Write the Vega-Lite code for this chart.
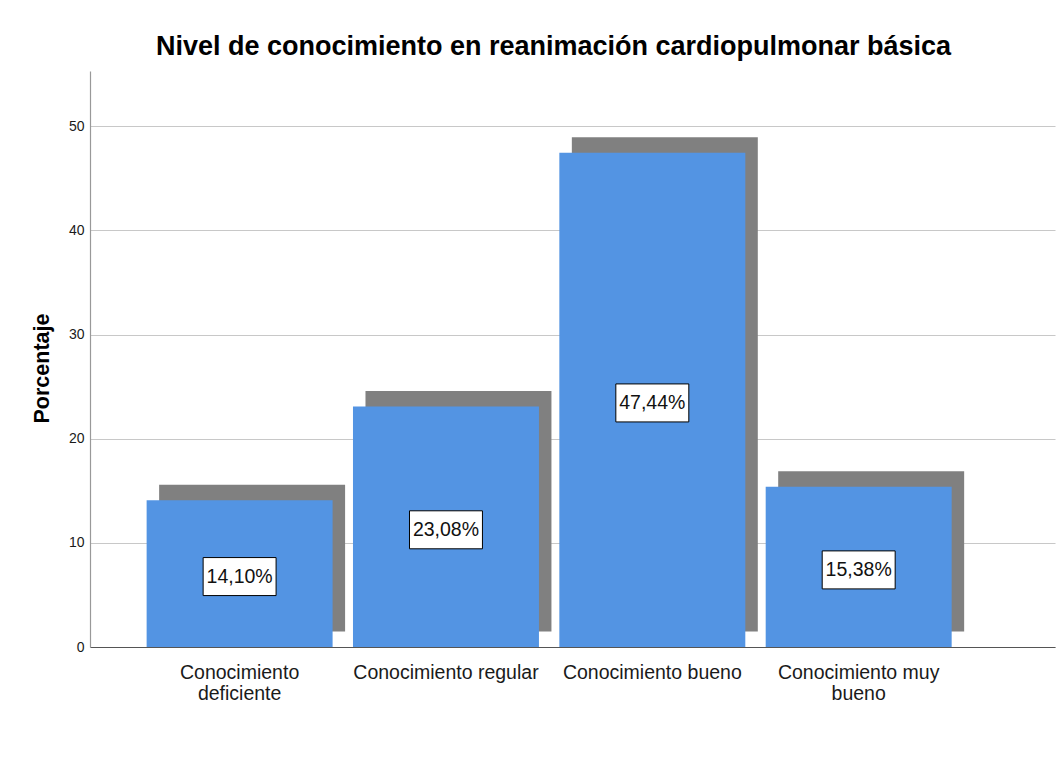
{
  "$schema": "https://vega.github.io/schema/vega-lite/v6.json",
  "width": 965,
  "height": 576,
  "autosize": {"type": "none"},
  "padding": {"left": 90, "top": 71, "right": 7, "bottom": 128},
  "background": "white",
  "title": {
    "text": "Nivel de conocimiento en reanimación cardiopulmonar básica",
    "font": "Liberation Sans",
    "fontSize": 27,
    "fontWeight": "bold",
    "color": "#000000",
    "anchor": "middle",
    "dx": -19,
    "offset": 10
  },
  "config": {
    "view": {"stroke": null},
    "font": "Liberation Sans"
  },
  "data": {
    "values": [
      {"nivel": "Conocimiento deficiente", "porcentaje": 14.10, "etiqueta": "14,10%"},
      {"nivel": "Conocimiento regular", "porcentaje": 23.08, "etiqueta": "23,08%"},
      {"nivel": "Conocimiento bueno", "porcentaje": 47.44, "etiqueta": "47,44%"},
      {"nivel": "Conocimiento muy bueno", "porcentaje": 15.38, "etiqueta": "15,38%"}
    ]
  },
  "encoding": {
    "x": {
      "field": "nivel",
      "type": "nominal",
      "sort": null,
      "scale": {"paddingInner": 0.0988, "paddingOuter": 0.3876, "align": 0.354},
      "axis": {
        "title": null,
        "labelAngle": 0,
        "ticks": false,
        "domainColor": "#555555",
        "domainWidth": 1.2,
        "labelFont": "Liberation Sans",
        "labelFontSize": 19.5,
        "labelColor": "#1a1a1a",
        "labelPadding": 16,
        "labelLineHeight": 21,
        "labelLimit": 400,
        "labelExpr": "datum.value == 'Conocimiento deficiente' ? ['Conocimiento', 'deficiente'] : datum.value == 'Conocimiento muy bueno' ? ['Conocimiento muy', 'bueno'] : datum.value"
      }
    }
  },
  "layer": [
    {
      "mark": {"type": "bar", "color": "#808080", "xOffset": 12.5, "yOffset": -15.5, "y2Offset": -15.5},
      "encoding": {
        "y": {
          "field": "porcentaje",
          "type": "quantitative",
          "scale": {"domain": [0, 55.3], "nice": false},
          "axis": {
            "title": "Porcentaje",
            "titleFont": "Liberation Sans",
            "titleFontSize": 21.5,
            "titleFontWeight": "bold",
            "titleColor": "#000000",
            "titlePadding": 15,
            "titleY": 297,
            "values": [0, 10, 20, 30, 40, 50],
            "ticks": false,
            "labelPadding": 6,
            "labelFont": "Liberation Sans",
            "labelFontSize": 14,
            "labelColor": "#1a1a1a",
            "domainColor": "#999999",
            "domainWidth": 1.2,
            "gridColor": "#c8c8c8",
            "gridWidth": 1.2
          }
        },
        "y2": {"datum": 0}
      }
    },
    {
      "mark": {"type": "bar", "color": "#5394e3"},
      "encoding": {
        "y": {"field": "porcentaje", "type": "quantitative"},
        "y2": {"datum": 0}
      }
    },
    {
      "transform": [{"calculate": "datum.porcentaje / 2", "as": "mitad"}],
      "mark": {"type": "point", "shape": "M-1.92,-1H1.92V1H-1.92Z", "size": 1444, "filled": true, "fill": "white", "stroke": "#000000", "strokeWidth": 1, "opacity": 1, "yOffset": 3},
      "encoding": {
        "y": {"field": "mitad", "type": "quantitative"}
      }
    },
    {
      "transform": [{"calculate": "datum.porcentaje / 2", "as": "mitad"}],
      "mark": {"type": "text", "font": "Liberation Sans", "fontSize": 19.5, "color": "#111111", "baseline": "middle", "align": "center", "yOffset": 3},
      "encoding": {
        "y": {"field": "mitad", "type": "quantitative"},
        "text": {"field": "etiqueta"}
      }
    }
  ]
}
